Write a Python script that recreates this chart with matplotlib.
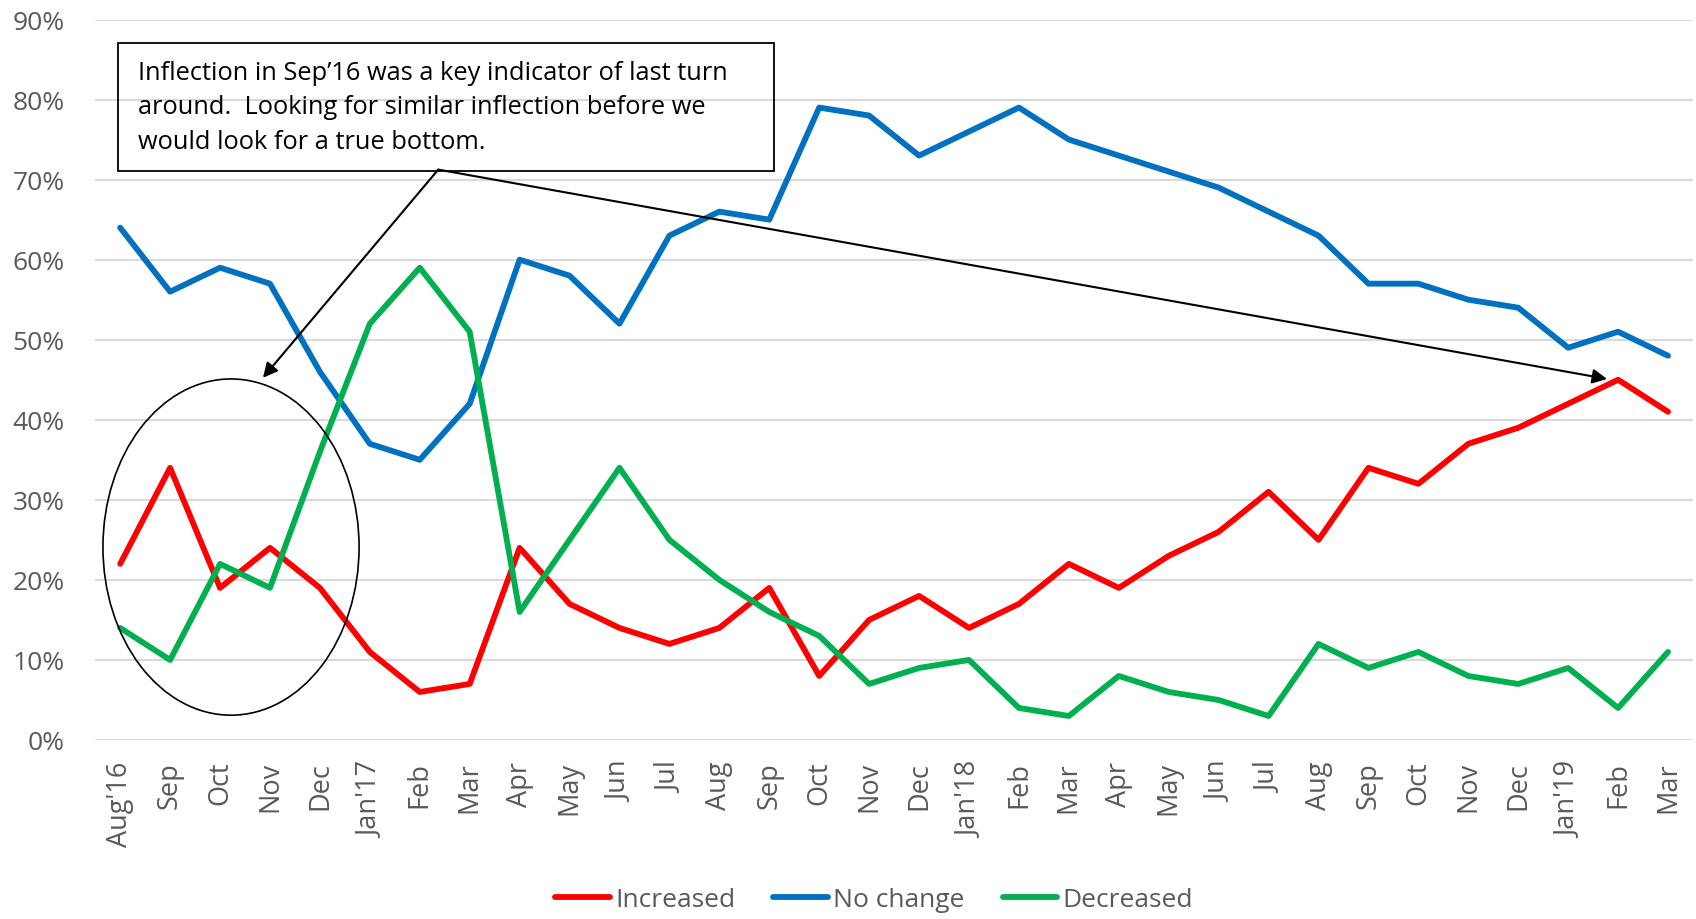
import matplotlib

matplotlib.use("Agg")
import matplotlib.pyplot as plt
from matplotlib.patches import Ellipse, Rectangle
from matplotlib.ticker import FuncFormatter

plt.rcParams["font.family"] = ["Open Sans", "DejaVu Sans"]

months = [
    "Aug'16", "Sep", "Oct", "Nov", "Dec",
    "Jan'17", "Feb", "Mar", "Apr", "May", "Jun", "Jul", "Aug", "Sep", "Oct", "Nov", "Dec",
    "Jan'18", "Feb", "Mar", "Apr", "May", "Jun", "Jul", "Aug", "Sep", "Oct", "Nov", "Dec",
    "Jan'19", "Feb", "Mar",
]
increased = [22, 34, 19, 24, 19, 11, 6, 7, 24, 17, 14, 12, 14, 19, 8, 15, 18,
             14, 17, 22, 19, 23, 26, 31, 25, 34, 32, 37, 39, 42, 45, 41]
no_change = [64, 56, 59, 57, 46, 37, 35, 42, 60, 58, 52, 63, 66, 65, 79, 78, 73,
             76, 79, 75, 73, 71, 69, 66, 63, 57, 57, 55, 54, 49, 51, 48]
decreased = [14, 10, 22, 19, 36, 52, 59, 51, 16, 25, 34, 25, 20, 16, 13, 7, 9,
             10, 4, 3, 8, 6, 5, 3, 12, 9, 11, 8, 7, 9, 4, 11]

note = ("Inflection in Sep\u201916 was a key indicator of last turn\n"
        "around.  Looking for similar inflection before we\n"
        "would look for a true bottom.")

W, H = 1696, 920
fig = plt.figure(figsize=(W / 100, H / 100), dpi=100)
ax = fig.add_axes([95.2 / W, 1 - 741 / H, (1693 - 95.2) / W, (741 - 20.5) / H])

x = range(len(months))
series = [
    ("Increased", increased, "#FF0000"),
    ("No change", no_change, "#0070C0"),
    ("Decreased", decreased, "#00B050"),
]
for label, vals, color in series:
    ax.plot(x, [v / 100 for v in vals], color=color, lw=4.2, label=label,
            solid_capstyle="round", solid_joinstyle="round", zorder=3)

ax.set_xlim(-0.5, len(months) - 0.5)
ax.set_ylim(0, 0.9)
ax.set_yticks([i / 10 for i in range(10)])
ax.yaxis.set_major_formatter(FuncFormatter(lambda v, _: f"{v * 100:.0f}%"))
ax.set_xticks(list(x))
ax.set_xticklabels(months, rotation=90, ha="center", va="top")
ax.tick_params(axis="both", length=0, labelsize=19, labelcolor="#595959")
ax.tick_params(axis="x", pad=15, labelsize=19.5)
ax.tick_params(axis="y", pad=22)
ax.yaxis.grid(True, color="#D9D9D9", lw=1.5, zorder=0)
for s in ax.spines.values():
    s.set_visible(False)

# circle around the Sep'16 inflection
ax.add_patch(Ellipse((2.22, 0.241), 5.13, 0.42, fill=False, ec="black", lw=1.2, zorder=4))

# note box
fig.patches.append(Rectangle((118 / W, 1 - 172 / H), (774 - 118) / W, (172 - 44) / H,
                             transform=fig.transFigure, fill=False, ec="black", lw=1.3,
                             zorder=5))
fig.text(138 / W, 1 - 108 / H, note, fontsize=18.3, color="black", va="center", ha="left",
         linespacing=1.5)

start = (6.37, 0.7125)
for tip in [(2.86, 0.4525), (29.78, 0.451)]:
    ax.annotate("", xy=tip, xytext=start,
                arrowprops=dict(arrowstyle="-|>", color="black", lw=1.5, mutation_scale=22,
                                shrinkA=0, shrinkB=0),
                zorder=6, annotation_clip=False)

fig.legend(loc="center", bbox_to_anchor=(874 / W, 1 - 901 / H), ncol=3, frameon=False,
           fontsize=19, labelcolor="#595959", handlelength=2.08, handletextpad=0.2,
           columnspacing=1.44)

fig.savefig("out.png", dpi=100)
